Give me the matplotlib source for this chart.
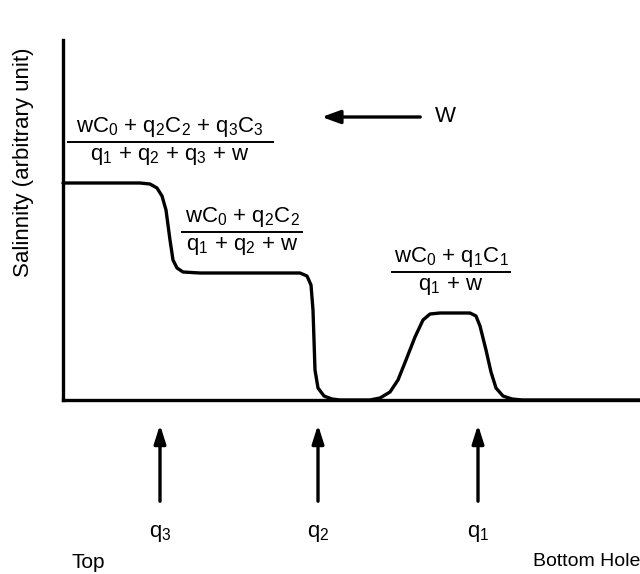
"""Salinity profile along the well bore, schematic."""

import matplotlib.pyplot as plt

# depth along the hole (left = top) and salinity, arbitrary units
depth = [0, 77, 87, 94, 99, 103, 107, 110, 114, 120, 137, 237, 244, 248, 250,
         252, 255, 261, 269, 277, 307, 317, 327, 335, 343, 352, 360, 367, 377,
         407, 413, 417, 423, 428, 433, 440, 449, 459, 577]
salinity = [217, 217, 216, 212, 204, 190, 160, 140, 132, 128, 127, 127, 124,
            115, 90, 30, 12, 4, 1, 0, 0, 2, 8, 20, 40, 63, 80, 86, 87, 87, 84,
            74, 50, 28, 12, 4, 1, 0, 0]

inflow_pos = [97, 255, 415]
inflow_labels = [r"q$_3$", r"q$_2$", r"q$_1$"]

# (centre, line height, numerator, denominator, line width)
fractions = [
    (107, 258, r"wC$_0$ + q$_2$C$_2$ + q$_3$C$_3$", r"q$_1$ + q$_2$ + q$_3$ + w", 205),
    (179, 168, r"wC$_0$ + q$_2$C$_2$", r"q$_1$ + q$_2$ + w", 120),
    (388, 128, r"wC$_0$ + q$_1$C$_1$", r"q$_1$ + w", 118),
]

plt.rcParams["font.family"] = ["Liberation Sans", "DejaVu Sans"]
plt.rcParams["mathtext.fontset"] = "custom"
plt.rcParams["mathtext.rm"] = "Liberation Sans"
plt.rcParams["mathtext.it"] = "Liberation Sans"
plt.rcParams["mathtext.default"] = "rm"

fig = plt.figure(figsize=(6.4, 5.74), dpi=100)
ax = fig.add_axes([63 / 640, 1 - 400 / 574, 577 / 640, 360 / 574])
ax.set_xlim(0, 577)
ax.set_ylim(0, 360)

ax.plot(depth, salinity, color="black", lw=2.4, solid_joinstyle="round",
        solid_capstyle="round", clip_on=False)

for side in ("top", "right"):
    ax.spines[side].set_visible(False)
for side in ("left", "bottom"):
    ax.spines[side].set_linewidth(2.4)
ax.set_xticks([])
ax.set_yticks([])
ax.set_ylabel("Salinnity (arbitrary unit)", fontsize=16)
ax.yaxis.set_label_coords(-0.05, 0.66)

# fraction labels on each plateau
for xc, ylin, num, den, width in fractions:
    ax.plot([xc - width / 2, xc + width / 2], [ylin, ylin], color="black",
            lw=1.4, clip_on=False)
    ax.text(xc, ylin + 3, num, ha="center", va="bottom", fontsize=16)
    ax.text(xc, ylin - 3, den, ha="center", va="top", fontsize=16)

# water flow arrow
ax.annotate("", xy=(256, 283), xytext=(360, 283),
            arrowprops=dict(arrowstyle="-|>,head_length=1.1,head_width=0.4",
                            color="black", lw=2.4))
ax.text(372, 283, "W", ha="left", va="center", fontsize=16)

# inflow arrows below the hole
for x, lab in zip(inflow_pos, inflow_labels):
    ax.annotate("", xy=(x, -22), xytext=(x, -104), annotation_clip=False,
                arrowprops=dict(arrowstyle="-|>,head_length=1.1,head_width=0.35",
                                color="black", lw=2.4))
    ax.text(x, -133, lab, ha="center", va="center", fontsize=16)

ax.text(25, -162, "Top", ha="center", va="center", fontsize=15)
ax.text(470, -162, "Bottom Hole", ha="left", va="center", fontsize=14)

fig.savefig("out.png", dpi=100)
